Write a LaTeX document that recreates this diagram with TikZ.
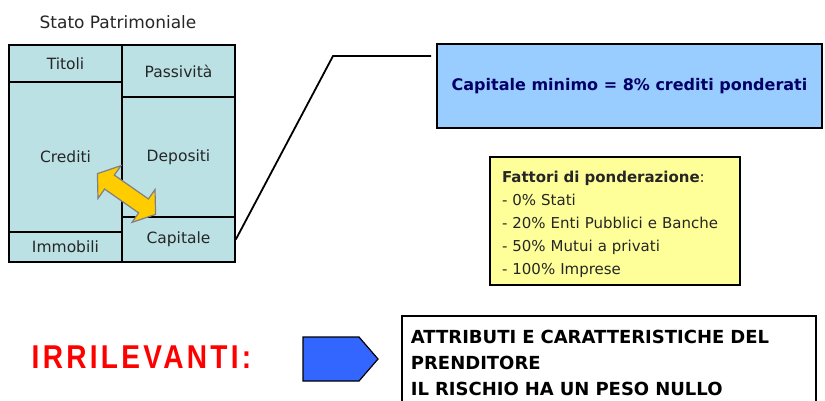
\documentclass[tikz,border=0pt]{standalone}
\usepackage{fontspec}
\setmainfont{DejaVu Sans}
\newfontfamily\strettofont[FakeStretch=0.85, LetterSpace=10]{Liberation Sans}
\usepackage{tikz}
\usetikzlibrary{shapes,backgrounds}
\definecolor{cella}{HTML}{BBE1E4}
\definecolor{azzurro}{HTML}{99CCFF}
\definecolor{giallino}{HTML}{FFFF99}
\definecolor{oro}{HTML}{FFCC00}
\definecolor{blu}{HTML}{3366FF}
\definecolor{notte}{HTML}{000066}

\begin{document}
\begin{tikzpicture}[x=1pt, y=-1pt,
	voce/.style={draw=black, line width=1.6pt, fill=cella, minimum width=113pt, inner sep=0pt,
		font=\fontsize{15.5}{18}\selectfont, text=black!85},
	riquadro/.style={draw=black, line width=1.8pt}]
	\useasboundingbox (0,0) rectangle (825,400);
	\node[font=\fontsize{17}{20}\selectfont, text=black!85] (titolo) at (118,22) {Stato Patrimoniale};
	\node[voce, minimum height=37pt] (titoli) at (65.5,63.5) {Titoli};
	\node[voce, minimum height=150pt] (crediti) at (65.5,157) {Crediti};
	\node[voce, minimum height=30pt] (immobili) at (65.5,247) {Immobili};
	\node[voce, minimum height=52pt] (passivita) at (178.5,71) {Passività};
	\node[voce, minimum height=120pt] (depositi) at (178.5,157) {Depositi};
	\node[voce, minimum height=45pt] (capitale) at (178.5,239.5) {Capitale};
	\begin{scope}[shift={(126.5,194)}, rotate=-35]
		\draw[fill=oro, draw=gray, line width=1.2pt] (-35.5,0) -- (-20.8,20) -- (-20.8,8.5) -- (20.8,8.5)
			-- (20.8,20) -- (35.5,0) -- (20.8,-20) -- (20.8,-8.5) -- (-20.8,-8.5) -- (-20.8,-20) -- cycle;
	\end{scope}
	\node[riquadro, fill=azzurro, minimum width=385pt, minimum height=84pt,
		font=\bfseries\fontsize{16}{19}\selectfont, text=notte] (minimo) at (629.5,86) {Capitale minimo = 8\% crediti ponderati};
	\coordinate (gomito) at (333,56);
	\draw[line width=1.8pt] (capitale.east) -- (gomito) -- ([xshift=-5pt]gomito -| minimo.west);
	\node[riquadro, fill=giallino, minimum width=250pt, minimum height=128pt, text width=226pt, inner xsep=12pt,
		text height=19pt, align=left, font=\fontsize{15}{23}\selectfont, text=black!85] (fattori) at (615,221)
		{\textbf{Fattori di ponderazione}:\\- 0\% Stati\\- 20\% Enti Pubblici e Banche\\- 50\% Mutui a privati\\- 100\% Imprese};
	\node[font=\strettofont\bfseries\fontsize{33}{36}\selectfont, text=red] (irrilevanti) at (141.5,357) {IRRILEVANTI:};
	\draw[fill=blu, line width=1.2pt] (303,337) -- (359,337) -- (378,359) -- (359,381) -- (303,381) -- cycle;
	\node[riquadro, fill=white, anchor=north west, minimum width=414pt, text width=396pt, inner xsep=9pt, inner ysep=14pt,
		align=left, font=\bfseries\fontsize{18}{26}\selectfont] (attributi) at (401,315)
		{ATTRIBUTI E CARATTERISTICHE DEL\\PRENDITORE\\IL RISCHIO HA UN PESO NULLO};
\end{tikzpicture}
\end{document}
